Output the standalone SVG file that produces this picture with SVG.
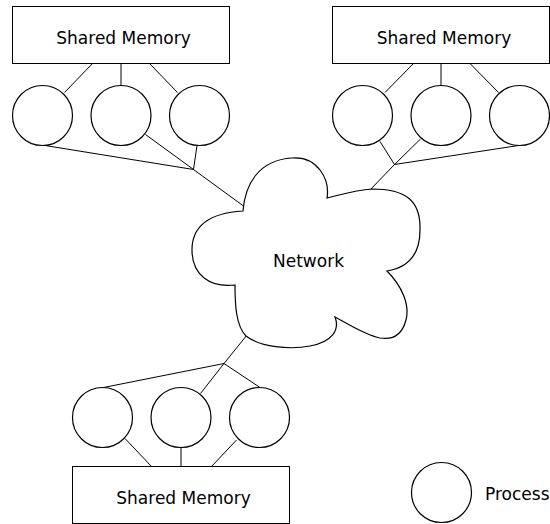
<svg xmlns="http://www.w3.org/2000/svg" width="550" height="524" viewBox="0 0 550 524">
<style>
.box{fill:#fff;stroke:#000;stroke-width:1}
.proc{fill:#fff;stroke:#000;stroke-width:1.2}
.cloud{fill:#fff;stroke:#000;stroke-width:1.2}
.wire{stroke:#000;stroke-width:1;fill:none}
text{font-family:"DejaVu Sans","Liberation Sans",sans-serif;font-size:17px;fill:#000}
</style>
<rect width="550" height="524" fill="#fff"/>
<g id="connectors" class="wire">
<line x1="92.5" y1="63.5" x2="64.5" y2="92.5"/>
<line x1="121" y1="63.5" x2="121" y2="85.5"/>
<line x1="149.5" y1="63.5" x2="177.5" y2="92.5"/>
<line x1="45" y1="145.5" x2="193.5" y2="169.5"/>
<line x1="145.5" y1="134.5" x2="193.5" y2="169.5"/>
<line x1="197" y1="145.5" x2="193.5" y2="169.5"/>
<line x1="193.5" y1="169.5" x2="243.5" y2="206"/>
<line x1="413.5" y1="63.5" x2="385" y2="92.5"/>
<line x1="441" y1="63.5" x2="441" y2="85.5"/>
<line x1="470" y1="63.5" x2="498.5" y2="92.5"/>
<line x1="380" y1="141.5" x2="394.5" y2="164.5"/>
<line x1="420.5" y1="139" x2="394.5" y2="164.5"/>
<line x1="518.5" y1="145.5" x2="394.5" y2="164.5"/>
<line x1="394.5" y1="164.5" x2="370" y2="190"/>
<line x1="247" y1="335" x2="224" y2="363.5"/>
<line x1="224" y1="363.5" x2="103.5" y2="387.5"/>
<line x1="224" y1="363.5" x2="200.5" y2="393.5"/>
<line x1="224" y1="363.5" x2="260" y2="387.5"/>
<line x1="125" y1="438.5" x2="151.5" y2="466.5"/>
<line x1="181" y1="447.5" x2="181" y2="466.5"/>
<line x1="236.5" y1="440" x2="211.5" y2="466.5"/>
</g>
<g id="mem-top-left">
<rect class="box" x="12.5" y="6.5" width="217" height="57"/>
<text x="123.5" y="43.5" text-anchor="middle">Shared Memory</text>
</g>
<g id="mem-top-right">
<rect class="box" x="332.5" y="6.5" width="217" height="57"/>
<text x="444" y="43.5" text-anchor="middle">Shared Memory</text>
</g>
<g id="mem-bottom">
<rect class="box" x="72.5" y="466.5" width="217" height="57"/>
<text x="183.5" y="503.5" text-anchor="middle">Shared Memory</text>
</g>
<g id="proc-tl-1"><circle class="proc" cx="42.5" cy="115.5" r="30"/></g>
<g id="proc-tl-2"><circle class="proc" cx="121" cy="115.5" r="30"/></g>
<g id="proc-tl-3"><circle class="proc" cx="199.5" cy="115.5" r="30"/></g>
<g id="proc-tr-1"><circle class="proc" cx="362.5" cy="115.5" r="30"/></g>
<g id="proc-tr-2"><circle class="proc" cx="441" cy="115.5" r="30"/></g>
<g id="proc-tr-3"><circle class="proc" cx="519.5" cy="115.5" r="30"/></g>
<g id="proc-b-1"><circle class="proc" cx="102.5" cy="417.5" r="30"/></g>
<g id="proc-b-2"><circle class="proc" cx="181" cy="417.5" r="30"/></g>
<g id="proc-b-3"><circle class="proc" cx="259.5" cy="417.5" r="30"/></g>
<g id="network">
<path class="cloud" d="M243,211 C245,185 258,160 292,158 C318,156 330,180 327,198 C340,195 355,190 372,189 C405,189 421,200 420,230 C420,258 405,268 387,271 C402,286 410,305 406,320 C402,335 392,340 380,338 C365,335 350,325 335,317 C340,330 332,342 310,346 C290,350 260,347 246,336 C236,326 235,305 235,285 C210,288 192,275 192,250 C192,225 210,213 243,211 Z"/>
<text x="308.5" y="266.5" text-anchor="middle">Network</text>
</g>
<g id="legend">
<circle class="proc" cx="441.5" cy="492.5" r="30"/>
<text x="485" y="500">Process</text>
</g>
</svg>
